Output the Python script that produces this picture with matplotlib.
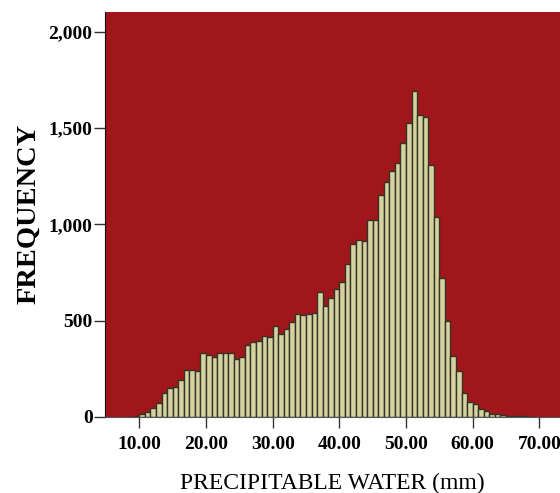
import numpy as np
import matplotlib
matplotlib.use("Agg")
import matplotlib.pyplot as plt
from matplotlib.ticker import FuncFormatter

# histogram counts, bins of 10/12 mm starting at 8.33 mm
bin_start = 25 / 3
bin_width = 10 / 12
counts = [
    1, 3,
    14, 24, 45, 71, 121, 149, 155, 190, 244, 244, 238, 332,
    323, 311, 333, 333, 333, 302, 311, 375, 389, 396, 422, 413,
    472, 432, 458, 494, 534, 530, 535, 541, 648, 577, 615, 663,
    701, 794, 896, 921, 912, 1024, 1022, 1154, 1218, 1278, 1321, 1421,
    1528, 1691, 1570, 1560, 1307, 1040, 720, 497, 316, 235, 123, 79,
    67, 41, 31, 12, 16, 10, 5, 5, 3, 2, 1,
]
x_ticks = [10, 20, 30, 40, 50, 60, 70]
y_ticks = [0, 500, 1000, 1500, 2000]

edges = bin_start + bin_width * np.arange(len(counts))

fig = plt.figure(figsize=(5.6, 4.93), dpi=100)
ax = fig.add_axes([105 / 560, 1 - 416.7 / 493, 455 / 560, 404.7 / 493])
ax.set_facecolor("#A0161B")

ax.bar(edges, counts, width=bin_width, align="edge",
       color="#D6D29F", edgecolor="#33332A", linewidth=1.0)

ax.set_xlim(4.855, 73.1)
ax.set_ylim(0, 2104)
ax.set_xticks(x_ticks)
ax.set_yticks(y_ticks)
ax.xaxis.set_major_formatter(FuncFormatter(lambda v, p: f"{v:.2f}"))
ax.yaxis.set_major_formatter(FuncFormatter(lambda v, p: f"{int(v):,}"))

for lab in ax.get_xticklabels() + ax.get_yticklabels():
    lab.set_fontfamily("Liberation Serif")
    lab.set_fontweight("bold")
    lab.set_fontsize(14)
ax.tick_params(axis="both", length=8, width=1, color="#333333")
ax.tick_params(axis="x", pad=6)
ax.tick_params(axis="y", pad=1)

for s in ["top", "right"]:
    ax.spines[s].set_visible(False)
ax.spines["left"].set_color("#111111")
ax.spines["bottom"].set_color("#555555")

ax.set_xlabel("PRECIPITABLE WATER (mm)", fontfamily="Liberation Serif",
              fontsize=17, labelpad=14)
ax.set_ylabel("FREQUENCY", fontfamily="Liberation Serif", fontweight="bold",
              fontsize=20.5, labelpad=5)

fig.savefig("out.png", dpi=100)
